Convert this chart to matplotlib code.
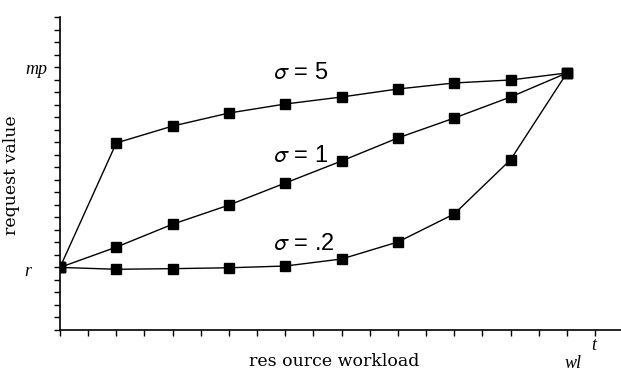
import matplotlib.pyplot as plt

# workload steps (tick units) and request values for three sigma settings
workload = [0, 2, 4, 6, 8, 10, 12, 14, 16, 18]
sigma_5 = [5.0, 14.94, 16.29, 17.33, 18.05, 18.61, 19.25, 19.73, 19.97, 20.53]
sigma_1 = [5.0, 6.62, 8.45, 9.98, 11.74, 13.5, 15.34, 16.93, 18.61, 20.53]
sigma_02 = [5.0, 4.85, 4.9, 4.97, 5.11, 5.67, 7.03, 9.27, 13.6, 20.53]
curve_labels = ['$\\sigma$ = 5', '$\\sigma$ = 1', '$\\sigma$ = .2']
label_pos = [(7.55, 20.5), (7.55, 13.9), (7.55, 6.9)]

plt.rcParams['mathtext.fontset'] = 'stixsans'

fig = plt.figure(figsize=(6.21, 3.79), dpi=100)
ax = fig.add_axes([60 / 621, 49 / 379, 561 / 621, 313 / 379])

for ys in (sigma_5, sigma_1, sigma_02):
    ax.plot(workload, ys, color='black', lw=1, marker='s', ms=7, mfc='black', mec='black')

for txt, (x, y) in zip(curve_labels, label_pos):
    ax.text(x, y, txt, fontsize=17, family='Liberation Sans', va='center', ha='left')

ax.set_xlim(0, 561 / 28.16)
ax.set_ylim(0, 25)
ax.set_xticks(range(0, 20))
ax.set_yticks(range(0, 26))
ax.tick_params(direction='out', length=4, width=1, labelbottom=False, labelleft=False)
ax.spines['top'].set_visible(False)
ax.spines['right'].set_visible(False)
ax.spines['left'].set_linewidth(1.2)
ax.spines['bottom'].set_linewidth(1.2)

# axis annotations
fig.text(12 / 621, 1 - 175 / 379, 'request value', rotation=90, ha='center', va='center',
         family='DejaVu Serif', fontsize=12.5)
fig.text(334 / 621, 1 - 362 / 379, 'res ource workload', ha='center', va='center',
         family='DejaVu Serif', fontsize=12.5)
fig.text(36 / 621, 1 - 70 / 379, 'mp', ha='center', va='center',
         family='Liberation Serif', style='italic', fontsize=13)
fig.text(28 / 621, 1 - 271 / 379, 'r', ha='center', va='center',
         family='Liberation Serif', style='italic', fontsize=13)
fig.text(573 / 621, 1 - 363 / 379, 'wl', ha='center', va='center',
         family='Liberation Serif', style='italic', fontsize=13)
fig.text(594 / 621, 1 - 345 / 379, 't', ha='center', va='center',
         family='Liberation Serif', style='italic', fontsize=13)

fig.savefig('out.png', dpi=100)
